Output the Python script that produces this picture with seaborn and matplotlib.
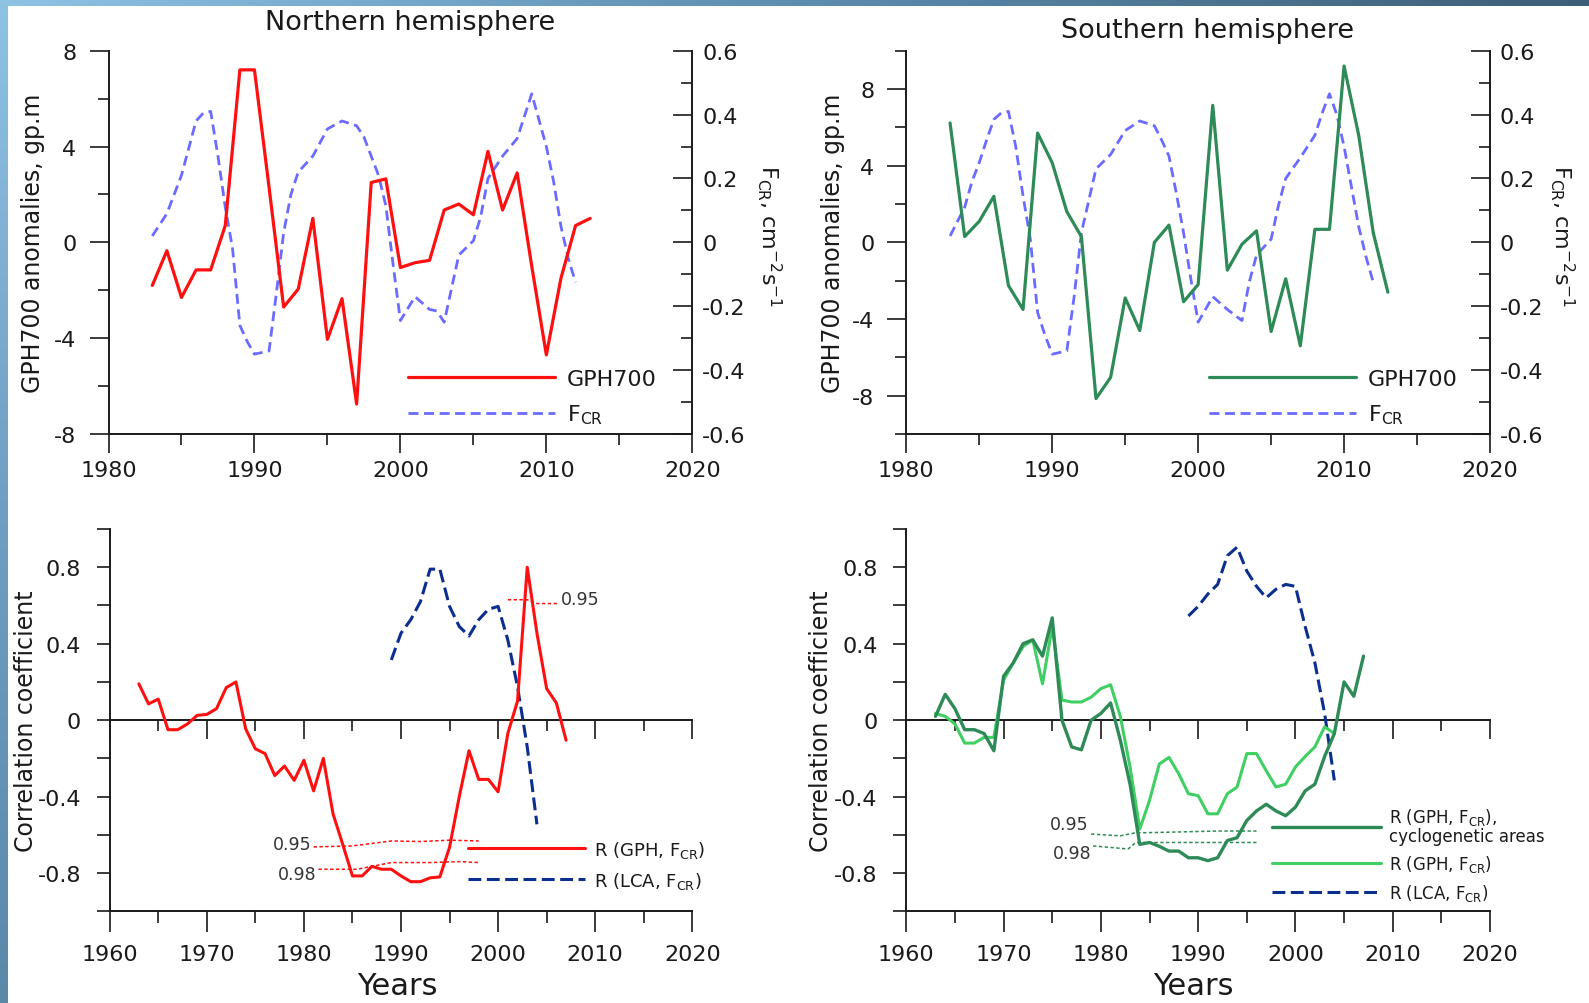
import numpy as np
import matplotlib
matplotlib.use("Agg")
import matplotlib.pyplot as plt
import seaborn as sns
from matplotlib.ticker import MultipleLocator, FixedLocator, FuncFormatter
from matplotlib.colors import LinearSegmentedColormap

# ---------------- data ----------------
gph_years = list(range(1983, 2014))
nh_gph = [-1.8, -0.35, -2.3, -1.15, -1.15, 0.7, 7.2, 7.2, 2.3, -2.7,
          -1.95, 1.0, -4.05, -2.35, -6.75, 2.5, 2.65, -1.05, -0.85, -0.75,
          1.35, 1.6, 1.15, 3.8, 1.35, 2.9, -1.0, -4.7, -1.5, 0.7, 1.0]
sh_gph = [6.23, 0.3, 1.1, 2.4, -2.25, -3.5, 5.7, 4.15, 1.6, 0.3,
          -8.15, -7.05, -2.9, -4.6, 0.0, 0.9, -3.1, -2.2, 7.15, -1.45,
          -0.1, 0.6, -4.65, -1.9, -5.4, 0.68, 0.68, 9.2, 5.6, 0.5, -2.6]

nh_fcr_years = [1983, 1984, 1985, 1986, 1986.5, 1987, 1987.5, 1988, 1988.5, 1989,
                1989.5, 1990, 1991, 1991.5, 1992, 1992.5, 1993, 1994, 1995, 1996,
                1997, 1997.5, 1998, 1998.5, 1999, 1999.5, 2000, 2001, 2002, 2002.5,
                2003, 2003.5, 2004, 2005, 2005.5, 2006, 2007, 2008, 2008.5, 2009,
                2010, 2010.5, 2011, 2011.5, 2012]
nh_fcr = [0.02, 0.09, 0.21, 0.38, 0.405, 0.41, 0.27, 0.11, -0.02, -0.26,
          -0.31, -0.35, -0.34, -0.16, 0.03, 0.15, 0.22, 0.27, 0.355, 0.38,
          0.365, 0.33, 0.27, 0.21, 0.115, -0.07, -0.245, -0.17, -0.21, -0.215,
          -0.25, -0.145, -0.04, 0.005, 0.08, 0.2, 0.27, 0.325, 0.395, 0.465,
          0.30, 0.19, 0.05, -0.05, -0.125]

sh_fcr_years = [1983, 1984, 1984.5, 1985, 1985.5, 1986, 1986.5, 1987, 1987.5, 1988,
                1988.5, 1989, 1989.5, 1990, 1991, 1991.5, 1992, 1993, 1994, 1995,
                1996, 1997, 1997.5, 1998, 1998.5, 1999, 1999.5, 2000, 2001, 2002,
                2003, 2003.5, 2004, 2005, 2005.5, 2006, 2007, 2008, 2008.5, 2009,
                2009.5, 2010, 2010.5, 2011, 2011.5, 2012]
sh_fcr = [0.02, 0.11, 0.19, 0.25, 0.32, 0.385, 0.405, 0.41, 0.30, 0.145,
          0.01, -0.22, -0.29, -0.35, -0.34, -0.17, 0.03, 0.23, 0.275, 0.35,
          0.38, 0.365, 0.32, 0.27, 0.155, 0.03, -0.115, -0.25, -0.17, -0.21,
          -0.245, -0.125, -0.04, 0.01, 0.115, 0.2, 0.265, 0.335, 0.405, 0.465,
          0.40, 0.30, 0.175, 0.05, -0.045, -0.125]

r_years = list(range(1963, 2008))
nh_r_gph = [0.19, 0.085, 0.11, -0.05, -0.05, -0.02, 0.025, 0.03, 0.06, 0.17,
            0.20, -0.045, -0.15, -0.175, -0.29, -0.24, -0.315, -0.21, -0.37, -0.2,
            -0.49, -0.65, -0.815, -0.815, -0.765, -0.78, -0.78, -0.815, -0.845, -0.845,
            -0.825, -0.82, -0.665, -0.40, -0.16, -0.31, -0.31, -0.375, -0.07, 0.10,
            0.80, 0.455, 0.165, 0.09, -0.105]
sh_r_cyclo = [0.02, 0.135, 0.06, -0.05, -0.05, -0.07, -0.16, 0.23, 0.30, 0.40,
              0.42, 0.335, 0.535, 0.0, -0.14, -0.155, 0.0, 0.035, 0.09, -0.105,
              -0.335, -0.65, -0.64, -0.66, -0.685, -0.685, -0.72, -0.72, -0.735, -0.72,
              -0.63, -0.615, -0.525, -0.475, -0.44, -0.475, -0.50, -0.455, -0.37, -0.335,
              -0.19, -0.07, 0.20, 0.125, 0.335]
sh_r_gph_years = list(range(1963, 2005))
sh_r_gph = [0.035, 0.02, -0.02, -0.12, -0.12, -0.09, -0.09, 0.21, 0.30, 0.385,
            0.42, 0.19, 0.49, 0.105, 0.095, 0.095, 0.12, 0.165, 0.185, 0.02,
            -0.245, -0.57, -0.42, -0.23, -0.195, -0.28, -0.385, -0.395, -0.49, -0.49,
            -0.385, -0.35, -0.175, -0.175, -0.265, -0.35, -0.335, -0.245, -0.19, -0.14,
            -0.035, -0.07]
lca_years = list(range(1989, 2005))
nh_r_lca = [0.315, 0.455, 0.525, 0.62, 0.79, 0.79, 0.595, 0.49, 0.44, 0.525,
            0.58, 0.595, 0.42, 0.175, -0.14, -0.545]
sh_r_lca = [0.545, 0.595, 0.66, 0.71, 0.86, 0.905, 0.78, 0.70, 0.64, 0.685,
            0.71, 0.70, 0.49, 0.30, 0.035, -0.315]

# significance levels
nh_s95_years = [1981, 1985, 1987, 1989, 1992, 1995, 1998]
nh_s95 = [-0.663, -0.658, -0.645, -0.632, -0.635, -0.628, -0.632]
nh_s98_years = [1981.5, 1985.5, 1989, 1993, 1996, 1998]
nh_s98 = [-0.78, -0.78, -0.745, -0.745, -0.74, -0.745]
nh_s95p_years = [2001, 2003, 2004, 2006.2]
nh_s95p = [0.63, 0.63, 0.61, 0.61]
sh_s95_years = [1979, 1982, 1983.5, 1988, 1992, 1996]
sh_s95 = [-0.596, -0.605, -0.59, -0.585, -0.58, -0.58]
sh_s98_years = [1979.2, 1982.8, 1983.6, 1990, 1996]
sh_s98 = [-0.658, -0.674, -0.64, -0.64, -0.64]

# ---------------- style ----------------
RED = '#ff1010'
LBLUE = '#6b6bff'
NAVY = '#0c2f8f'
DGREEN = '#2e8b57'
LGREEN = '#3fcf62'
INK = '#1a1a1a'

sns.set_style('ticks')
plt.rcParams['font.family'] = ['DejaVu Sans']
plt.rcParams['axes.unicode_minus'] = False
plt.rcParams['mathtext.fontset'] = 'dejavusans'

W, H = 1589, 1004
fig = plt.figure(figsize=(W / 100, H / 100), dpi=100)
fig.patch.set_facecolor('white')


def fr(l, t, r, b):
    return [l / W, 1 - b / H, (r - l) / W, (b - t) / H]


def fmt(v, pos):
    if abs(v) < 1e-9:
        return '0'
    if abs(v - round(v)) < 1e-9:
        return f'{int(round(v))}'
    return f'{v:.1f}'


def line(ax, x, y, color, lw, dashes=None, label=None, z=3):
    n0 = len(ax.lines)
    sns.lineplot(x=x, y=y, ax=ax, color=color, linewidth=lw, label=label,
                 legend=False, sort=False, estimator=None, zorder=z)
    ln = ax.lines[n0]
    if dashes is not None:
        ln.set_dashes(dashes)
    return ln


# decorative blue frame (top and left edges)
top_cmap = LinearSegmentedColormap.from_list('t', ['#8ec3e4', '#5d8db0', '#3d5e76'])
left_cmap = LinearSegmentedColormap.from_list('l', ['#8ec3e4', '#6f9fc2', '#5a89a8'])
gt = fig.add_axes([0, 1 - 7 / H, 1, 7 / H])
gt.imshow(np.linspace(0, 1, 256)[None, :], aspect='auto', cmap=top_cmap)
gt.axis('off')
gl = fig.add_axes([0, 0, 7 / W, 1])
gl.imshow(np.linspace(0, 1, 256)[:, None], aspect='auto', cmap=left_cmap)
gl.axis('off')

ax_tl = fig.add_axes(fr(108.5, 51.7, 692.3, 435))
ax_tr = fig.add_axes(fr(906.3, 51.7, 1490, 435))
ax_bl = fig.add_axes(fr(109.7, 530, 692.3, 912.3))
ax_br = fig.add_axes(fr(906.3, 530, 1490, 912.3))

ylab_gph = 'GPH700 anomalies, gp.m'
ylab_fcr = r'F$_{\rm CR}$, cm$^{-2}$s$^{-1}$'


def top_panel(ax, gph, gcolor, fcr_x, fcr, ylim, ymajor, leg_x, lab_x, rlab_x):
    ax2 = ax.twinx()
    ln_f = line(ax2, fcr_x, fcr, LBLUE, 2.0, dashes=(3.6, 2.0), label=r'F$_{\rm CR}$')
    ln_g = line(ax, gph_years, gph, gcolor, 2.3, label='GPH700')
    ax.set_zorder(ax2.get_zorder() + 1)
    ax.patch.set_visible(False)
    ax.set_xlim(1980, 2020)
    ax.set_ylim(*ylim)
    ax2.set_ylim(-0.6, 0.6)
    ax.xaxis.set_major_locator(MultipleLocator(10))
    ax.xaxis.set_minor_locator(MultipleLocator(5))
    ax.yaxis.set_major_locator(FixedLocator(ymajor))
    ax.yaxis.set_minor_locator(MultipleLocator(2))
    ax2.yaxis.set_major_locator(MultipleLocator(0.2))
    ax2.yaxis.set_minor_locator(MultipleLocator(0.1))
    ax.yaxis.set_major_formatter(FuncFormatter(fmt))
    ax2.yaxis.set_major_formatter(FuncFormatter(fmt))
    for s in ('top', 'right'):
        ax.spines[s].set_visible(False)
    for s in ('top', 'left', 'bottom'):
        ax2.spines[s].set_visible(False)
    for a in (ax, ax2):
        for s in a.spines.values():
            s.set_linewidth(1.4)
            s.set_color(INK)
        a.tick_params(which='major', length=14, width=1.2, colors=INK, labelsize=16)
        a.tick_params(which='minor', length=8, width=1.2, colors=INK)
    ax.tick_params(axis='y', which='both', direction='out', pad=9, left=True, right=False)
    ax.tick_params(axis='x', which='both', direction='out', pad=5, bottom=True, top=False)
    ax2.tick_params(axis='y', which='both', direction='in', pad=7, right=True, left=False)
    ax.set_xlabel('')
    ax.set_ylabel(ylab_gph, fontsize=17, color=INK)
    ax.yaxis.set_label_coords(lab_x, 0.5)
    ax2.set_ylabel(ylab_fcr, fontsize=16, color=INK, rotation=270, va='bottom')
    ax2.yaxis.set_label_coords(rlab_x, 0.52)
    ax.legend(handles=[ln_g, ln_f], loc='center left', bbox_to_anchor=(leg_x, 0.095),
              frameon=False, fontsize=16, handlelength=6.6, handletextpad=0.55,
              labelspacing=0.62, borderpad=0, borderaxespad=0, labelcolor=INK)


top_panel(ax_tl, nh_gph, RED, nh_fcr_years, nh_fcr, (-8, 8), [-8, -4, 0, 4, 8],
          0.513, -0.109, 1.108)
top_panel(ax_tr, sh_gph, DGREEN, sh_fcr_years, sh_fcr, (-10, 10), [-8, -4, 0, 4, 8],
          0.519, -0.105, 1.100)

fig.text(410 / W, 1 - 23 / H, 'Northern hemisphere', ha='center', va='center',
         fontsize=19.5, color=INK)
fig.text(1208 / W, 1 - 31 / H, 'Southern hemisphere', ha='center', va='center',
         fontsize=19.5, color=INK)


def bottom_panel(ax, lab_x, years_x):
    ax.set_xlim(1960, 2020)
    ax.set_ylim(-1, 1)
    ax.xaxis.set_major_locator(MultipleLocator(10))
    ax.xaxis.set_minor_locator(MultipleLocator(5))
    ax.yaxis.set_major_locator(MultipleLocator(0.4))
    ax.yaxis.set_minor_locator(MultipleLocator(0.2))
    ax.yaxis.set_major_formatter(FuncFormatter(fmt))
    for s in ('top', 'right'):
        ax.spines[s].set_visible(False)
    for s in ('left', 'bottom'):
        ax.spines[s].set_linewidth(1.4)
        ax.spines[s].set_color(INK)
    ax.tick_params(which='both', colors=INK, width=1.2, labelsize=16)
    ax.tick_params(axis='x', which='major', length=15, pad=8.5)
    ax.tick_params(axis='x', which='minor', length=8.4)
    ax.tick_params(axis='y', which='major', length=9.5, pad=11)
    ax.tick_params(axis='y', which='minor', length=9.5)
    sec = ax.secondary_xaxis(0.5)
    sec.xaxis.set_major_locator(MultipleLocator(10))
    sec.xaxis.set_minor_locator(MultipleLocator(5))
    sec.tick_params(which='both', direction='in', labeltop=False, labelbottom=False,
                    colors=INK, width=1.2)
    sec.tick_params(which='major', length=14)
    sec.tick_params(which='minor', length=8)
    for s in sec.spines.values():
        s.set_linewidth(1.4)
        s.set_color(INK)
    ax.set_ylabel('Correlation coefficient', fontsize=17, color=INK)
    ax.yaxis.set_label_coords(lab_x, 0.5)
    ax.set_xlabel('Years', fontsize=22, color=INK)
    ax.xaxis.set_label_coords(years_x, -0.156)


# bottom-left (Northern)
bottom_panel(ax_bl, -0.123, 0.493)
sig_dash = (2.2, 1.6)
line(ax_bl, nh_s95_years, nh_s95, RED, 1.1, dashes=sig_dash, z=2)
line(ax_bl, nh_s98_years, nh_s98, RED, 1.1, dashes=sig_dash, z=2)
line(ax_bl, nh_s95p_years, nh_s95p, RED, 1.1, dashes=sig_dash, z=2)
l1 = line(ax_bl, lca_years, nh_r_lca, NAVY, 2.2, dashes=(4.2, 1.8), label=r'R (LCA, F$_{\rm CR}$)')
l2 = line(ax_bl, r_years, nh_r_gph, RED, 2.2, label=r'R (GPH, F$_{\rm CR}$)')
ax_bl.text(1980.8, -0.646, '0.95', ha='right', va='center', fontsize=12.5, color='#333333')
ax_bl.text(1981.3, -0.805, '0.98', ha='right', va='center', fontsize=12.5, color='#333333')
ax_bl.text(2006.5, 0.632, '0.95', ha='left', va='center', fontsize=12.5, color='#333333')
ax_bl.legend(handles=[l2, l1], loc='center left', bbox_to_anchor=(0.615, 0.122),
             frameon=False, fontsize=13, handlelength=6.5, handletextpad=0.5,
             labelspacing=0.55, borderpad=0, borderaxespad=0, labelcolor=INK)

# bottom-right (Southern)
bottom_panel(ax_br, -0.126, 0.491)
line(ax_br, sh_s95_years, sh_s95, DGREEN, 1.1, dashes=sig_dash, z=2)
line(ax_br, sh_s98_years, sh_s98, DGREEN, 1.1, dashes=sig_dash, z=2)
m1 = line(ax_br, lca_years, sh_r_lca, NAVY, 2.2, dashes=(4.2, 1.8), label=r'R (LCA, F$_{\rm CR}$)')
m2 = line(ax_br, sh_r_gph_years, sh_r_gph, LGREEN, 2.2, label=r'R (GPH, F$_{\rm CR}$)')
m3 = line(ax_br, r_years, sh_r_cyclo, DGREEN, 2.4,
          label='R (GPH, F$_{\\rm CR}$),\ncyclogenetic areas')
ax_br.text(1978.7, -0.544, '0.95', ha='right', va='center', fontsize=12.5, color='#333333')
ax_br.text(1979.0, -0.693, '0.98', ha='right', va='center', fontsize=12.5, color='#333333')
leg_br = ax_br.legend(handles=[m3, m2, m1], loc='center left', bbox_to_anchor=(0.627, 0.148),
                      frameon=False, fontsize=12, handlelength=6.5, handletextpad=0.5,
                      labelspacing=0.5, borderpad=0, borderaxespad=0, labelcolor=INK)
for t in leg_br.get_texts():
    t.set_linespacing(0.95)

fig.savefig('out.png', dpi=100, facecolor='white')
